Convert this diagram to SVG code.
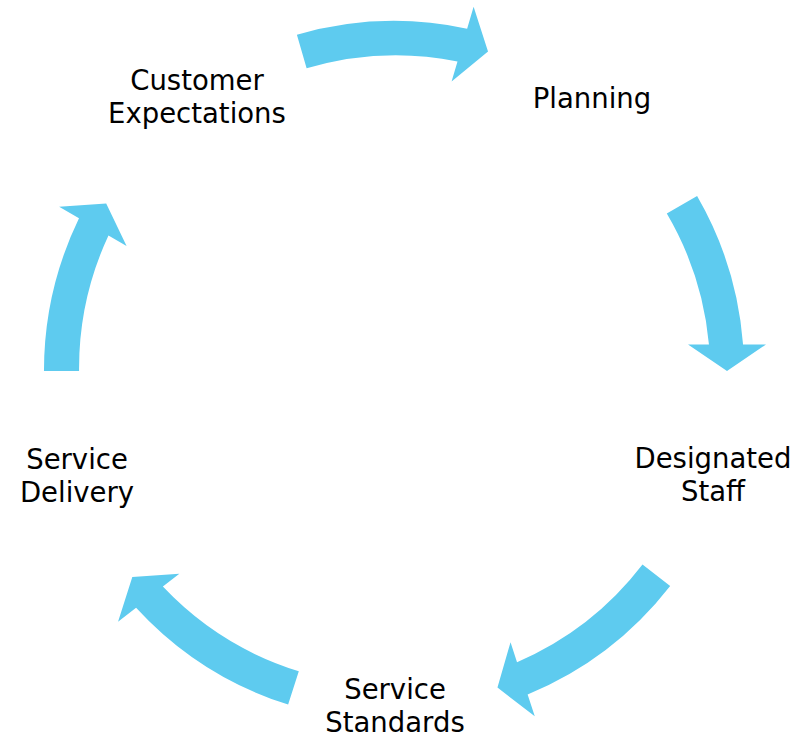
<svg xmlns="http://www.w3.org/2000/svg" width="801" height="742" viewBox="0 0 801 742">
<style>
.arr{fill:#5ECBEF;stroke:none}
.lbl{font-family:"DejaVu Sans","Noto Sans",sans-serif;font-size:27.5px;fill:#000;text-anchor:middle}
</style>
<rect width="801" height="742" fill="#fff"/>
<g id="connectors">
<path class="arr" transform="rotate(16.4 394 371)" d="M205.9 75.8 A350 350 0 0 1 367.5 21.95 L367.5 -1 L394 38 L367.5 77 L367.5 56.05 A315 315 0 0 0 224.7 105.3 Z"/>
<path class="arr" transform="rotate(90 394 371)" d="M219 67.9 A350 350 0 0 1 367.5 21.95 L367.5 -1 L394 38 L367.5 77 L367.5 56.05 A315 315 0 0 0 236.5 98.2 Z"/>
<path class="arr" transform="rotate(161.9 394 371)" d="M198.3 80.8 A350 350 0 0 1 367.5 21.95 L367.5 -1 L394 38 L367.5 77 L367.5 56.05 A315 315 0 0 0 217.9 109.9 Z"/>
<path class="arr" transform="rotate(231.8 394 371)" d="M197.3 81.5 A350 350 0 0 1 367.5 21.95 L367.5 -1 L394 38 L367.5 77 L367.5 56.05 A315 315 0 0 0 216.9 110.5 Z"/>
<path class="arr" transform="rotate(300.2 394 371)" d="M217.9 68.5 A350 350 0 0 1 367.5 21.95 L367.5 -1 L394 38 L367.5 77 L367.5 56.05 A315 315 0 0 0 235.6 98.8 Z"/>
</g>
<g id="node-customer-expectations"><text class="lbl" x="197" y="90">Customer</text><text class="lbl" x="197" y="123">Expectations</text></g>
<g id="node-planning"><text class="lbl" x="592" y="108">Planning</text></g>
<g id="node-designated-staff"><text class="lbl" x="713" y="468">Designated</text><text class="lbl" x="713" y="501">Staff</text></g>
<g id="node-service-standards"><text class="lbl" x="395" y="699">Service</text><text class="lbl" x="395" y="732">Standards</text></g>
<g id="node-service-delivery"><text class="lbl" x="77" y="469">Service</text><text class="lbl" x="77" y="502">Delivery</text></g>
</svg>
